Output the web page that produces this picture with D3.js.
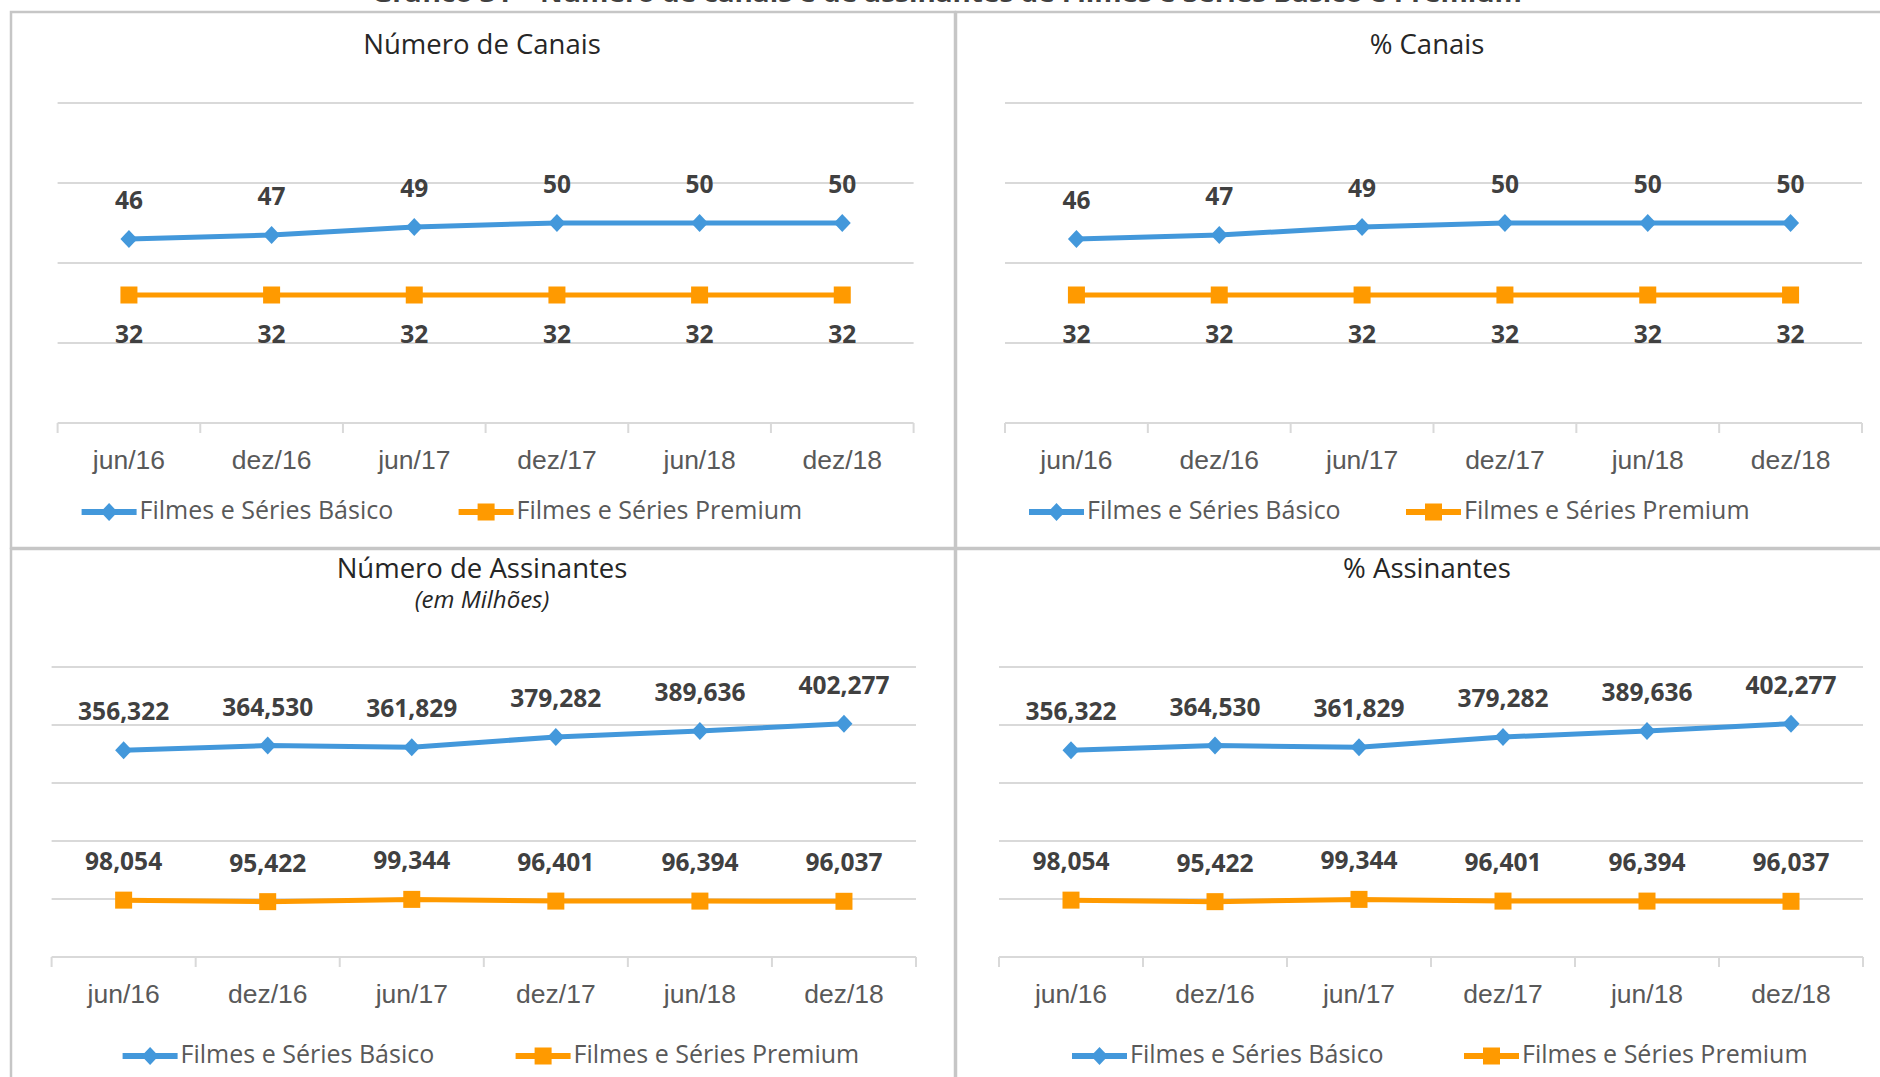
<!DOCTYPE html>
<html>
<head>
<meta charset="utf-8">
<script src="https://cdn.jsdelivr.net/npm/d3@7"></script>
<style>
  body { margin: 0; background: #fff; }
  svg { display: block; font-family: 'Open Sans', 'Noto Sans', sans-serif; }
</style>
</head>
<body>
<svg id="chart" width="1880" height="1077"></svg>
<script>
// data
const periods = ['jun/16', 'dez/16', 'jun/17', 'dez/17', 'jun/18', 'dez/18']
const seriesNames = ['Filmes e Séries Básico', 'Filmes e Séries Premium']

const canaisBasico = [46, 47, 49, 50, 50, 50]
const canaisPremium = [32, 32, 32, 32, 32, 32]
const pctCanaisBasico = [46, 47, 49, 50, 50, 50]
const pctCanaisPremium = [32, 32, 32, 32, 32, 32]

const assinantesBasico = [356322, 364530, 361829, 379282, 389636, 402277]
const assinantesPremium = [98054, 95422, 99344, 96401, 96394, 96037]
const pctAssinantesBasico = [356322, 364530, 361829, 379282, 389636, 402277]
const pctAssinantesPremium = [98054, 95422, 99344, 96401, 96394, 96037]

const blue = '#4398db'
const orange = '#ff9a00'
const gridColor = '#d9d9d9'

const svg = d3.select('#chart')

// title of the page above, cut off by the crop
svg.append('text')
  .attr('x', 947).attr('y', 2)
  .attr('text-anchor', 'middle')
  .attr('font-size', 24).attr('font-weight', 700)
  .attr('fill', '#404040')
  .attr('textLength', 1150).attr('lengthAdjust', 'spacingAndGlyphs')
  .text('Gráfico 31 – Número de canais e de assinantes de Filmes e Séries Básico e Premium')

const panels = [
  {
    box: [11, 12, 944, 536], title: 'Número de Canais', tx: 482, ty: 54,
    x: [57.6, 913.6], y: [423, 103], max: 80, step: 20,
    legend: [24, 401], legendY: 512,
    series: [
      {values: canaisBasico, color: blue, marker: 'diamond', label: 'above'},
      {values: canaisPremium, color: orange, marker: 'square', label: 'below'}
    ]
  },
  {
    box: [956, 12, 940, 536], title: '% Canais', tx: 1427, ty: 54,
    x: [1005, 1862], y: [423, 103], max: 80, step: 20,
    legend: [24, 401], legendY: 512,
    series: [
      {values: pctCanaisBasico, color: blue, marker: 'diamond', label: 'above'},
      {values: pctCanaisPremium, color: orange, marker: 'square', label: 'below'}
    ]
  },
  {
    box: [11, 549, 944, 600], title: 'Número de Assinantes', sub: '(em Milhões)', tx: 482, ty: 578,
    x: [51.6, 916], y: [957, 667], max: 500000, step: 100000,
    legend: [71, 464], legendY: 1056,
    series: [
      {values: assinantesBasico, color: blue, marker: 'diamond', label: 'above'},
      {values: assinantesPremium, color: orange, marker: 'square', label: 'above'}
    ]
  },
  {
    box: [956, 549, 940, 600], title: '% Assinantes', tx: 1427, ty: 578,
    x: [999, 1863], y: [957, 667], max: 500000, step: 100000,
    legend: [73, 465], legendY: 1056,
    series: [
      {values: pctAssinantesBasico, color: blue, marker: 'diamond', label: 'above'},
      {values: pctAssinantesPremium, color: orange, marker: 'square', label: 'above'}
    ]
  }
]

function drawMarker (g, type, cx, cy, color) {
  if (type === 'diamond') {
    g.append('path')
      .attr('d', `M${cx},${cy - 9}L${cx + 8.5},${cy}L${cx},${cy + 9}L${cx - 8.5},${cy}Z`)
      .attr('fill', color)
  } else {
    g.append('rect')
      .attr('x', cx - 8.5).attr('y', cy - 8.5)
      .attr('width', 17).attr('height', 17)
      .attr('fill', color)
  }
}

function drawPanel (p) {
  let g = svg.append('g')

  // frame
  g.append('rect')
    .attr('x', p.box[0]).attr('y', p.box[1])
    .attr('width', p.box[2]).attr('height', p.box[3])
    .attr('fill', '#fff')
    .attr('stroke', '#c6c6c6').attr('stroke-width', 2.5)

  // title (subtitle as a second line of the same text)
  let title = g.append('text')
    .attr('x', p.tx).attr('y', p.ty)
    .attr('text-anchor', 'middle')
    .attr('font-size', 27.5).attr('fill', '#262626')
  title.append('tspan').text(p.title)
  if (p.sub) {
    title.append('tspan')
      .attr('x', p.tx).attr('y', p.ty + 30)
      .attr('font-size', 24).attr('font-style', 'italic')
      .text(p.sub)
  }

  let x = d3.scaleBand().domain(periods).range(p.x)
  let y = d3.scaleLinear().domain([0, p.max]).range(p.y)
  let cx = (d, i) => x(periods[i]) + x.bandwidth() / 2

  // gridlines
  g.selectAll('.grid')
    .data(d3.range(p.step, p.max + 1, p.step))
    .enter()
    .append('line')
    .attr('x1', p.x[0]).attr('x2', p.x[1])
    .attr('y1', (d) => y(d)).attr('y2', (d) => y(d))
    .attr('stroke', gridColor).attr('stroke-width', 2)

  // category axis, ticks between categories
  let axis = g.append('g')
    .attr('transform', `translate(0,${y(0)})`)
    .call(d3.axisBottom(x).tickSize(0))
  axis.select('.domain').remove()
  axis.selectAll('text')
    .attr('y', 46).attr('dy', null)
    .attr('font-size', 26.5).attr('fill', '#595959')
    .attr('font-family', null)
  axis.append('line')
    .attr('x1', p.x[0]).attr('x2', p.x[1])
    .attr('stroke', gridColor).attr('stroke-width', 2)
  axis.selectAll('.cat-tick')
    .data(periods.map((d) => x(d)).concat([p.x[1]]))
    .enter()
    .append('line')
    .attr('x1', (d) => d).attr('x2', (d) => d)
    .attr('y1', 0).attr('y2', 10)
    .attr('stroke', gridColor).attr('stroke-width', 2)

  let line = d3.line()
    .x(cx)
    .y((d) => y(d))

  p.series.forEach((s) => {
    g.append('path')
      .datum(s.values)
      .attr('d', line)
      .attr('fill', 'none')
      .attr('stroke', s.color).attr('stroke-width', 5)
      .attr('stroke-linejoin', 'round')

    s.values.forEach((v, i) => drawMarker(g, s.marker, cx(v, i), y(v), s.color))

    g.selectAll(null)
      .data(s.values)
      .enter()
      .append('text')
      .attr('x', cx)
      .attr('y', (d) => y(d) + (s.label === 'above' ? -30 : 48))
      .attr('text-anchor', 'middle')
      .attr('font-size', 24.5).attr('font-weight', 700)
      .attr('fill', '#404040')
      .text((d) => d3.format(',')(d))
  })

  // legend
  p.series.forEach((s, i) => {
    let lx = p.x[0] + p.legend[i]
    g.append('line')
      .attr('x1', lx).attr('x2', lx + 55)
      .attr('y1', p.legendY).attr('y2', p.legendY)
      .attr('stroke', s.color).attr('stroke-width', 6)
    drawMarker(g, s.marker, lx + 27.5, p.legendY, s.color)
    g.append('text')
      .attr('x', lx + 58).attr('y', p.legendY + 7)
      .attr('font-size', 25).attr('fill', '#595959')
      .text(seriesNames[i])
  })
}

panels.forEach(drawPanel)
</script>
</body>
</html>
